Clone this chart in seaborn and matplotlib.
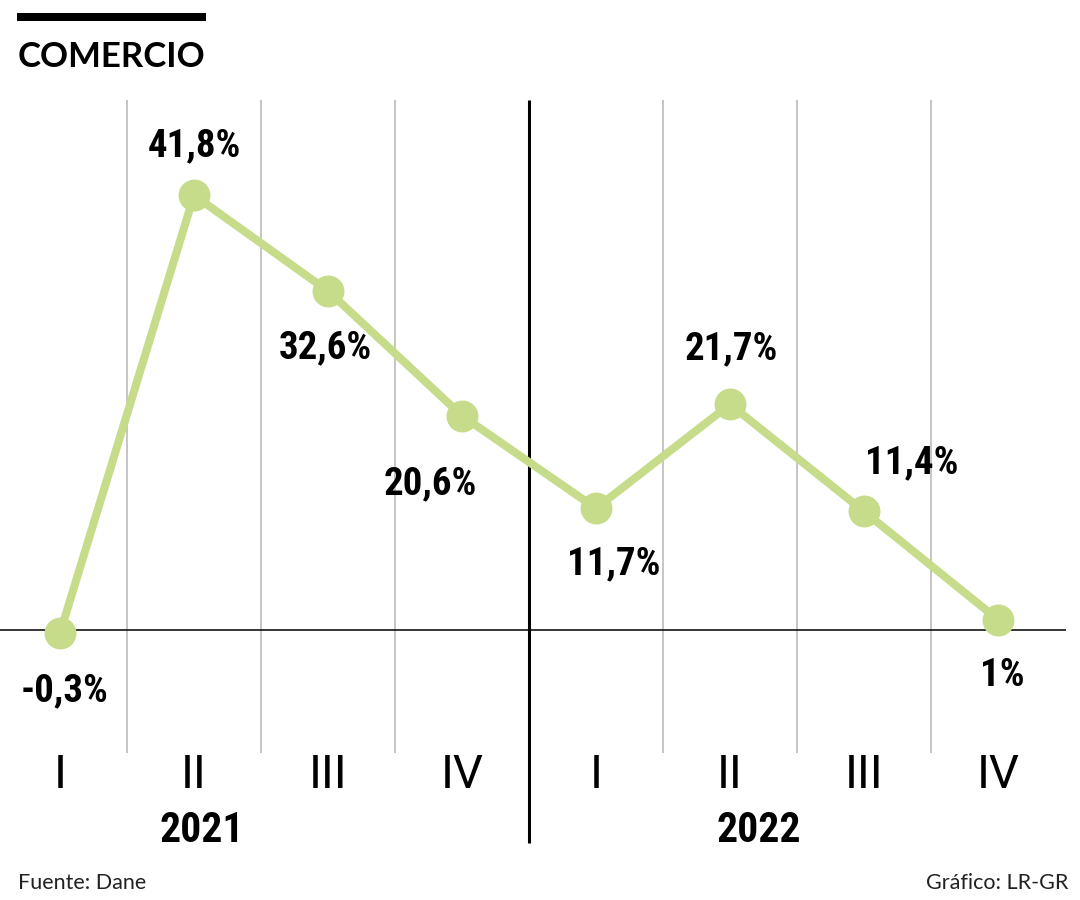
import pandas as pd
import seaborn as sns
import matplotlib.pyplot as plt
import matplotlib.patches as mpatches

# data
quarters = ["I", "II", "III", "IV", "I", "II", "III", "IV"]
years = ["2021", "2022"]
values = [-0.3, 41.8, 32.6, 20.6, 11.7, 21.7, 11.4, 1.0]
labels = ["-0,3%", "41,8%", "32,6%", "20,6%", "11,7%", "21,7%", "11,4%", "1%"]

# label offsets in pixels (dx right, dy down) from each point
label_offsets = [(5, 58), (0, -49), (-3, 57), (-32, 68), (18, 55), (1, -56), (48, -49), (4, 56)]

GREEN = "#c6dc8b"
GRAY = "#b5b5b5"
BOLD_NARROW = ["Roboto Condensed", "Liberation Sans Narrow", "DejaVu Sans"]
ROMAN = ["Roboto", "DejaVu Sans"]
SANS = ["Lato", "DejaVu Sans"]

df = pd.DataFrame({"pos": range(len(values)), "value": values})

sns.set_style("white")
plt.rcParams["font.family"] = SANS
plt.rcParams["text.color"] = "black"

W, H = 1080, 900
fig = plt.figure(figsize=(W / 100, H / 100), dpi=100)
ax = fig.add_axes([0, 0, 1, 1])

# pixel <-> data mapping: point I-2021 at x=60px, 134px per quarter; zero at y=630px, 10.4px per unit
x0, dxp = 60, 134
y0, dyp = 630, 10.4


def px_x(p):
    return (p - x0) / dxp


def px_y(p):
    return (y0 - p) / dyp


# separators between quarters
n = len(values)
seps = [i + 0.5 for i in range(n - 1)]
mid = (n - 1) / 2
ax.vlines([s for s in seps if s != mid], px_y(753), px_y(100), colors=GRAY, lw=1.1, zorder=1)
ax.vlines(mid, px_y(843), px_y(100), colors="black", lw=2.2, zorder=1)
ax.hlines(0, px_x(0), px_x(1066), colors="black", lw=1.1, zorder=1)

sns.lineplot(data=df, x="pos", y="value", color=GREEN, lw=5.8, marker="o",
             markersize=23, markeredgewidth=0, ax=ax, zorder=3)
ax.set_xlim(px_x(0), px_x(W))
ax.set_ylim(px_y(H), px_y(0))
ax.axis("off")

for i, (lab, v) in enumerate(zip(labels, values)):
    dx, dy = label_offsets[i]
    ax.annotate(lab, (i, v), xytext=(dx, -dy), textcoords="offset pixels",
                ha="center", va="center", fontsize=28, fontweight="bold",
                family=BOLD_NARROW, color="black", zorder=4)

for i, q in enumerate(quarters):
    ax.text(i, px_y(775), q, ha="center", va="center", fontsize=34,
            fontweight="normal", family=ROMAN, color="black")

year_pos = [px_x(202), px_x(759)]
for yp, yr in zip(year_pos, years):
    ax.text(yp, px_y(831), yr, ha="center", va="center", fontsize=30,
            fontweight="bold", family=BOLD_NARROW, color="black")

# header
fig.add_artist(mpatches.Rectangle((17 / W, 1 - 21 / H), 189 / W, 8 / H,
                                  transform=fig.transFigure, color="black", lw=0))
fig.text(18 / W, 1 - 57 / H, "COMERCIO", ha="left", va="center", fontsize=25,
         fontweight="bold", family=SANS, color="black")

# footer
fig.text(18 / W, 1 - 883 / H, "Fuente: Dane", ha="left", va="center", fontsize=15.5,
         family=SANS, color="#222222")
fig.text(1068 / W, 1 - 883 / H, "Gráfico: LR-GR", ha="right", va="center", fontsize=15.5,
         family=SANS, color="#222222")

fig.savefig("out.png", dpi=100)
